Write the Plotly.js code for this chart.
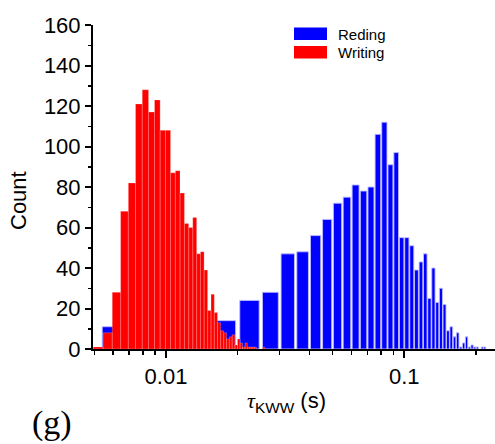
<!DOCTYPE html>
<html><head><meta charset="utf-8">
<script src="https://cdn.plot.ly/plotly-3.0.1.min.js"></script>
<style>html,body{margin:0;padding:0;background:#fff;overflow:hidden}</style>
</head><body><div id="chart" style="width:495px;height:444px"></div>
<script>
const seriesNames = ["Reding", "Writing"];

// Reading histogram (bin centres in s, counts)
const readingCenters = [0.0075, 0.0125, 0.0175, 0.0225, 0.0275, 0.0325, 0.0375, 0.0425, 0.0475, 0.0525,
  0.0575, 0.0625, 0.0675, 0.0725, 0.0775, 0.0825, 0.0875, 0.0925, 0.0975, 0.1025,
  0.1075, 0.1125, 0.1175, 0.1225, 0.1275, 0.1325, 0.1375, 0.1425, 0.1475, 0.1525,
  0.1575, 0.1625, 0.1675, 0.1725, 0.1775, 0.1825, 0.1875, 0.1925, 0.1975, 0.2025,
  0.2125, 0.2175];
const readingCounts = [11, 12, 14, 24, 28, 47, 48, 56, 64, 72,
  75, 81, 78, 80, 106, 112, 91, 97, 55, 55,
  51, 39, 43, 47, 25, 40, 23, 30, 22, 9,
  11, 6, 8, 1, 3, 6, 1, 2, 1, 1,
  1, 1];

// Writing histogram (bin centres in s, counts)
const writingCenters = [0.0052, 0.0057, 0.0062, 0.0067, 0.0072, 0.0077, 0.0082, 0.0087, 0.0092, 0.0097,
  0.0102, 0.0107, 0.0112, 0.0117, 0.0122, 0.0127, 0.0132, 0.0137, 0.0142, 0.0147,
  0.0152, 0.0157, 0.0162, 0.0167, 0.0172, 0.0177, 0.0182, 0.0187, 0.0192, 0.0197,
  0.0202, 0.0207, 0.0212, 0.0217, 0.0222, 0.0227, 0.0232, 0.0237, 0.0257];
const writingCounts = [1, 8, 28, 68, 82, 121, 128, 117, 123, 108,
  108, 87, 88, 77, 62, 60, 65, 47, 48, 39,
  19, 27, 18, 13, 9, 8, 5, 6, 7, 2,
  5, 3, 1, 3, 1, 1, 1, 1, 1];

const xMajorTickVals = [0.01, 0.1];
const xMajorTickText = ["0.01", "0.1"];
const xMinorTickVals = [0.005, 0.006, 0.007, 0.008, 0.009, 0.02, 0.03, 0.04, 0.05, 0.06, 0.07, 0.08, 0.09, 0.2];

const readingHalfWidth = 0.0021;
const writingHalfWidth = 0.00025;

function barPolygons(centers, counts, hw) {
  const xs = [], ys = [];
  for (let i = 0; i < centers.length; i++) {
    if (counts[i] <= 0) continue;
    const l = centers[i] - hw, r = centers[i] + hw;
    xs.push(l, l, r, r, l, null);
    ys.push(0, counts[i], counts[i], 0, 0, null);
  }
  return {xs, ys};
}

const rb = barPolygons(readingCenters, readingCounts, readingHalfWidth);
const wb = barPolygons(writingCenters, writingCounts, writingHalfWidth);

const traces = [
  {type: 'scatter', mode: 'lines', x: rb.xs, y: rb.ys, fill: 'toself', fillcolor: '#0000ff',
   line: {color: 'rgba(190,190,255,0.9)', width: 1}, name: seriesNames[0], hoverinfo: 'skip', connectgaps: false},
  {type: 'scatter', mode: 'lines', x: wb.xs, y: wb.ys, fill: 'toself', fillcolor: '#ff0000',
   line: {color: 'rgba(255,255,255,0.28)', width: 0.8}, name: seriesNames[1], hoverinfo: 'skip', connectgaps: false}
];

const L = 93, R = 0, T = 25, B = 95, W = 495, H = 444;
const pw = W - L - R, ph = H - T - B;
const px = x => (x - L) / pw;
const py = y => (H - B - y) / ph;

const font = 'Liberation Sans, Arial, sans-serif';
const layout = {
  width: W, height: H,
  margin: {l: L, r: R, t: T, b: B, pad: 0},
  paper_bgcolor: '#fff', plot_bgcolor: '#fff',
  showlegend: false,
  font: {family: font, color: '#000', size: 22},
  xaxis: {
    type: 'log', range: [-2.3063, -0.6194],
    showline: true, linecolor: '#000', linewidth: 2,
    showgrid: false, zeroline: false,
    tickmode: 'array', tickvals: xMajorTickVals, ticktext: xMajorTickText,
    ticks: 'outside', ticklen: 7, tickwidth: 2, tickcolor: '#000',
    tickfont: {family: font, size: 22, color: '#000'},
    minor: {tickmode: 'array', tickvals: xMinorTickVals, ticks: 'outside', ticklen: 4, tickwidth: 1.5, tickcolor: '#000', showgrid: false}
  },
  yaxis: {
    range: [0, 160], dtick: 20, tick0: 0,
    showline: true, linecolor: '#000', linewidth: 2,
    showgrid: false, zeroline: false,
    ticks: 'outside', ticklen: 6, tickwidth: 2, tickcolor: '#000',
    tickfont: {family: font, size: 22, color: '#000'},
    minor: {dtick: 10, ticks: 'outside', ticklen: 3, tickwidth: 1.5, tickcolor: '#000', showgrid: false}
  },
  shapes: [
    {type: 'rect', xref: 'paper', yref: 'paper', x0: px(294), x1: px(327), y0: py(40), y1: py(27.5), fillcolor: '#0000ff', line: {width: 0}},
    {type: 'rect', xref: 'paper', yref: 'paper', x0: px(294), x1: px(327), y0: py(58.5), y1: py(46), fillcolor: '#ff0000', line: {width: 0}}
  ],
  annotations: [
    {xref: 'paper', yref: 'paper', x: px(336), y: py(34), xanchor: 'left', yanchor: 'middle', showarrow: false,
     text: seriesNames[0], font: {family: font, size: 15, color: '#000'}},
    {xref: 'paper', yref: 'paper', x: px(336), y: py(52.5), xanchor: 'left', yanchor: 'middle', showarrow: false,
     text: seriesNames[1], font: {family: font, size: 15, color: '#000'}},
    {xref: 'paper', yref: 'paper', x: px(18), y: py(201), xanchor: 'center', yanchor: 'middle', showarrow: false, textangle: -90,
     text: 'Count', font: {family: font, size: 22, color: '#000'}},
    {xref: 'paper', yref: 'paper', x: px(286), y: py(402), xanchor: 'center', yanchor: 'middle', showarrow: false,
     text: '<span style="font-family:Liberation Serif,Times New Roman,serif"><i>τ</i></span><sub>KWW</sub> (s)', font: {family: font, size: 22, color: '#000'}},
    {xref: 'paper', yref: 'paper', x: px(52), y: py(423), xanchor: 'center', yanchor: 'middle', showarrow: false,
     text: '(g)', font: {family: 'Liberation Serif, Times New Roman, serif', size: 34, color: '#000'}}
  ]
};

Plotly.newPlot('chart', traces, layout, {displayModeBar: false, staticPlot: true});
</script></body></html>
